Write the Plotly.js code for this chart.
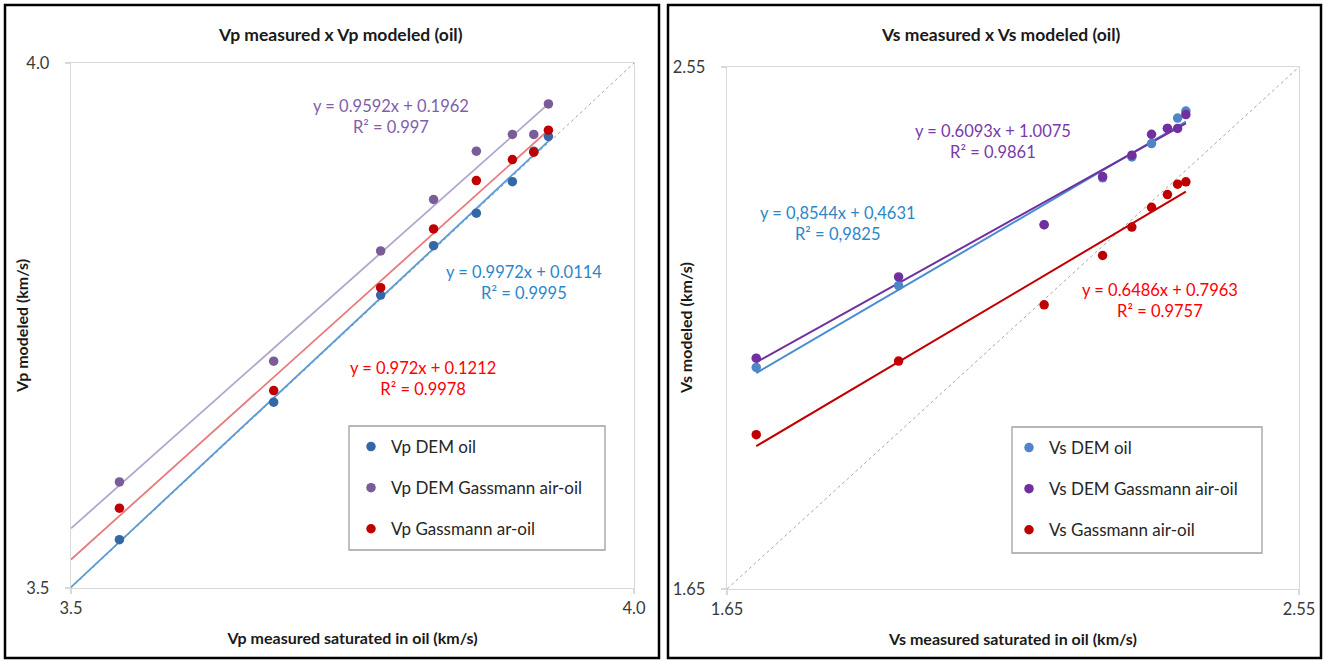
<!DOCTYPE html>
<html>
<head>
<meta charset="utf-8">
<script src="https://cdn.plot.ly/plotly-3.0.1.min.js"></script>
<style>html,body{margin:0;padding:0;background:#fff}#chart{width:1323px;height:660px}</style>
</head>
<body>
<div id="chart"></div>
<script>
// ---------- data ----------
var vpMeasured     = [3.543, 3.680, 3.775, 3.822, 3.860, 3.892, 3.911, 3.924];
var vpDemOil       = [3.546, 3.677, 3.779, 3.826, 3.857, 3.887, 3.916, 3.930];
var vpDemGassmann  = [3.601, 3.716, 3.821, 3.870, 3.916, 3.932, 3.932, 3.961];
var vpGassmann     = [3.576, 3.688, 3.786, 3.842, 3.888, 3.908, 3.915, 3.936];

var vsMeasured     = [1.696, 1.920, 2.149, 2.241, 2.287, 2.318, 2.343, 2.359, 2.372];
var vsDemOil       = [2.032, 2.173, 2.278, 2.359, 2.395, 2.418, 2.444, 2.462, 2.474];
var vsDemGassmann  = [2.048, 2.188, 2.278, 2.361, 2.398, 2.434, 2.444, 2.444, 2.468];
var vsGassmann     = [1.916, 2.043, 2.140, 2.225, 2.274, 2.308, 2.330, 2.348, 2.352];

var vpRange = [3.5, 4.0];
var vsRange = [1.65, 2.55];

var vpNames = ['Vp DEM oil', 'Vp DEM Gassmann air-oil', 'Vp Gassmann ar-oil'];
var vsNames = ['Vs DEM oil', 'Vs DEM Gassmann air-oil', 'Vs Gassmann air-oil'];

var vpEquations = ['y = 0.9972x + 0.0114<br>R² = 0.9995', 'y = 0.9592x + 0.1962<br>R² = 0.997', 'y = 0.972x + 0.1212<br>R² = 0.9978'];
var vsEquations = ['y = 0,8544x + 0,4631<br>R² = 0,9825', 'y = 0.6093x + 1.0075<br>R² = 0.9861', 'y = 0.6486x + 0.7963<br>R² = 0.9757'];

// ---------- styling ----------
var W = 1323, H = 660;
function px(x){ return x / W; }
function py(y){ return 1 - y / H; }
var FONT = 'Lato, "Open Sans", sans-serif';

var vpMarkerColors = ['#3467A6', '#7A5C98', '#C00000'];
var vpLineColors   = ['#5B9BD5', '#B4A5CB', '#E87A7C'];
var vpTextColors   = ['#2C87C9', '#8060AA', '#FF0000'];
var vsMarkerColors = ['#4F86C8', '#7030A0', '#C00000'];
var vsLineColors   = ['#4A8CD2', '#7030A0', '#C00000'];
var vsTextColors   = ['#2C87C9', '#7A3AAA', '#FF0000'];

function linfit(x, y){
  var n = x.length, mx = 0, my = 0;
  for (var i = 0; i < n; i++){ mx += x[i]; my += y[i]; }
  mx /= n; my /= n;
  var sxy = 0, sxx = 0;
  for (var j = 0; j < n; j++){ sxy += (x[j]-mx)*(y[j]-my); sxx += (x[j]-mx)*(x[j]-mx); }
  var a = sxy / sxx;
  return {a: a, b: my - a*mx};
}
function trend(x, y, x0, x1){
  var f = linfit(x, y);
  return {x: [x0, x1], y: [f.a*x0 + f.b, f.a*x1 + f.b]};
}

var traces = [];
// diagonals (y = x)
traces.push({x: vpRange, y: vpRange, mode: 'lines', line: {color: '#A6A6A6', width: 1, dash: 'dot'}, showlegend: false, hoverinfo: 'skip', xaxis: 'x', yaxis: 'y'});
traces.push({x: vsRange, y: vsRange, mode: 'lines', line: {color: '#A6A6A6', width: 1, dash: 'dot'}, showlegend: false, hoverinfo: 'skip', xaxis: 'x2', yaxis: 'y2'});

var vpSeries = [vpDemOil, vpDemGassmann, vpGassmann];
var vsSeries = [vsDemOil, vsDemGassmann, vsGassmann];
var vpXmax = Math.max.apply(null, vpMeasured);
var vsXmin = Math.min.apply(null, vsMeasured), vsXmax = Math.max.apply(null, vsMeasured);

// trendlines (least squares)
vpSeries.forEach(function(s, i){
  var t = trend(vpMeasured, s, vpRange[0], vpXmax);
  traces.push({x: t.x, y: t.y, mode: 'lines', line: {color: vpLineColors[i], width: 1.8}, showlegend: false, hoverinfo: 'skip', xaxis: 'x', yaxis: 'y'});
});
vsSeries.forEach(function(s, i){
  var t = trend(vsMeasured, s, vsXmin, vsXmax);
  traces.push({x: t.x, y: t.y, mode: 'lines', line: {color: vsLineColors[i], width: 2}, showlegend: false, hoverinfo: 'skip', xaxis: 'x2', yaxis: 'y2'});
});
// points
vpSeries.forEach(function(s, i){
  traces.push({x: vpMeasured, y: s, name: vpNames[i], mode: 'markers', marker: {color: vpMarkerColors[i], size: 9.5}, legend: 'legend', legendgroup: 'vp' + i, xaxis: 'x', yaxis: 'y'});
});
vsSeries.forEach(function(s, i){
  traces.push({x: vsMeasured, y: s, name: vsNames[i], mode: 'markers', marker: {color: vsMarkerColors[i], size: 9.5}, legend: 'legend2', legendgroup: 'vs' + i, xaxis: 'x2', yaxis: 'y2'});
});

function axis(range, dom, anchor, extra){
  var a = {range: range, domain: dom, anchor: anchor, tickvals: range, ticktext: range.map(function(v){ return v.toFixed(range[0] === 3.5 ? 1 : 2); }),
    showgrid: false, zeroline: false, showline: true, mirror: true, linecolor: '#D9D9D9', linewidth: 1.3,
    ticks: 'outside', ticklen: 5, tickcolor: '#D9D9D9', tickwidth: 1.3,
    tickfont: {family: FONT, size: 16.5, color: '#3A3A3A'}, automargin: false, fixedrange: true};
  for (var k in extra) a[k] = extra[k];
  return a;
}

var titleFont = {family: FONT, size: 17.5, color: '#1A1A1A', weight: 700};
var axTitleFont = {family: FONT, size: 16, color: '#1A1A1A', weight: 700};

function note(text, x, y, font, extra){
  var a = {text: text, x: px(x), y: py(y), xref: 'paper', yref: 'paper', xanchor: 'center', yanchor: 'middle', showarrow: false, align: 'center', font: font};
  for (var k in extra) a[k] = extra[k];
  return a;
}

var annotations = [
  note('Vp measured x Vp modeled (oil)', 341, 34, titleFont),
  note('Vs measured x Vs modeled (oil)', 1001, 35, titleFont),
  note('Vp modeled (km/s)', 21, 326, axTitleFont, {textangle: -90}),
  note('Vs modeled (km/s)', 685, 328, axTitleFont, {textangle: -90})
];
var vpEqPos = [[524, 282], [391, 116], [423, 378]];
var vsEqPos = [[838, 223], [993, 142], [1160, 300]];
vpEquations.forEach(function(t, i){
  annotations.push(note(t, vpEqPos[i][0], vpEqPos[i][1], {family: FONT, size: 16.5, color: vpTextColors[i]}));
});
vsEquations.forEach(function(t, i){
  annotations.push(note(t, vsEqPos[i][0], vsEqPos[i][1], {family: FONT, size: 16.5, color: vsTextColors[i]}));
});

function rect(x0, y0, x1, y1, color, w){
  return {type: 'rect', xref: 'paper', yref: 'paper', x0: px(x0), x1: px(x1), y0: py(y1), y1: py(y0), line: {color: color, width: w}, fillcolor: 'rgba(0,0,0,0)', layer: 'above'};
}

var legendFont = {family: FONT, size: 17, color: '#262626'};
var layout = {
  width: W, height: H,
  margin: {l: 0, r: 0, t: 0, b: 0},
  paper_bgcolor: '#fff', plot_bgcolor: '#fff',
  showlegend: true,
  xaxis: axis(vpRange, [px(71), px(634)], 'y', {title: {text: 'Vp measured saturated in oil (km/s)', font: axTitleFont, standoff: 15}}),
  yaxis: axis(vpRange, [py(588), py(63)], 'x', {ticklabelstandoff: 12}),
  xaxis2: axis(vsRange, [px(727), px(1299)], 'y2', {title: {text: 'Vs measured saturated in oil (km/s)', font: axTitleFont, standoff: 15}}),
  yaxis2: axis(vsRange, [py(589), py(67)], 'x2', {ticklabelstandoff: 12}),
  legend: {x: px(351), y: py(429), xanchor: 'left', yanchor: 'top', font: legendFont, bgcolor: 'rgba(0,0,0,0)', borderwidth: 0, traceorder: 'grouped', tracegroupgap: 16, itemclick: false},
  legend2: {x: px(1009), y: py(430), xanchor: 'left', yanchor: 'top', font: legendFont, bgcolor: 'rgba(0,0,0,0)', borderwidth: 0, traceorder: 'grouped', tracegroupgap: 16, itemclick: false},
  annotations: annotations,
  shapes: [
    rect(5, 5, 659, 658, '#000', 2.5),
    rect(668, 5, 1321, 658, '#000', 2.5),
    rect(349, 426, 605, 550, '#A0A0A0', 1.3),
    rect(1012, 427, 1262, 553, '#A0A0A0', 1.3)
  ]
};

Plotly.newPlot('chart', traces, layout, {staticPlot: true, displayModeBar: false});
</script>
</body>
</html>
